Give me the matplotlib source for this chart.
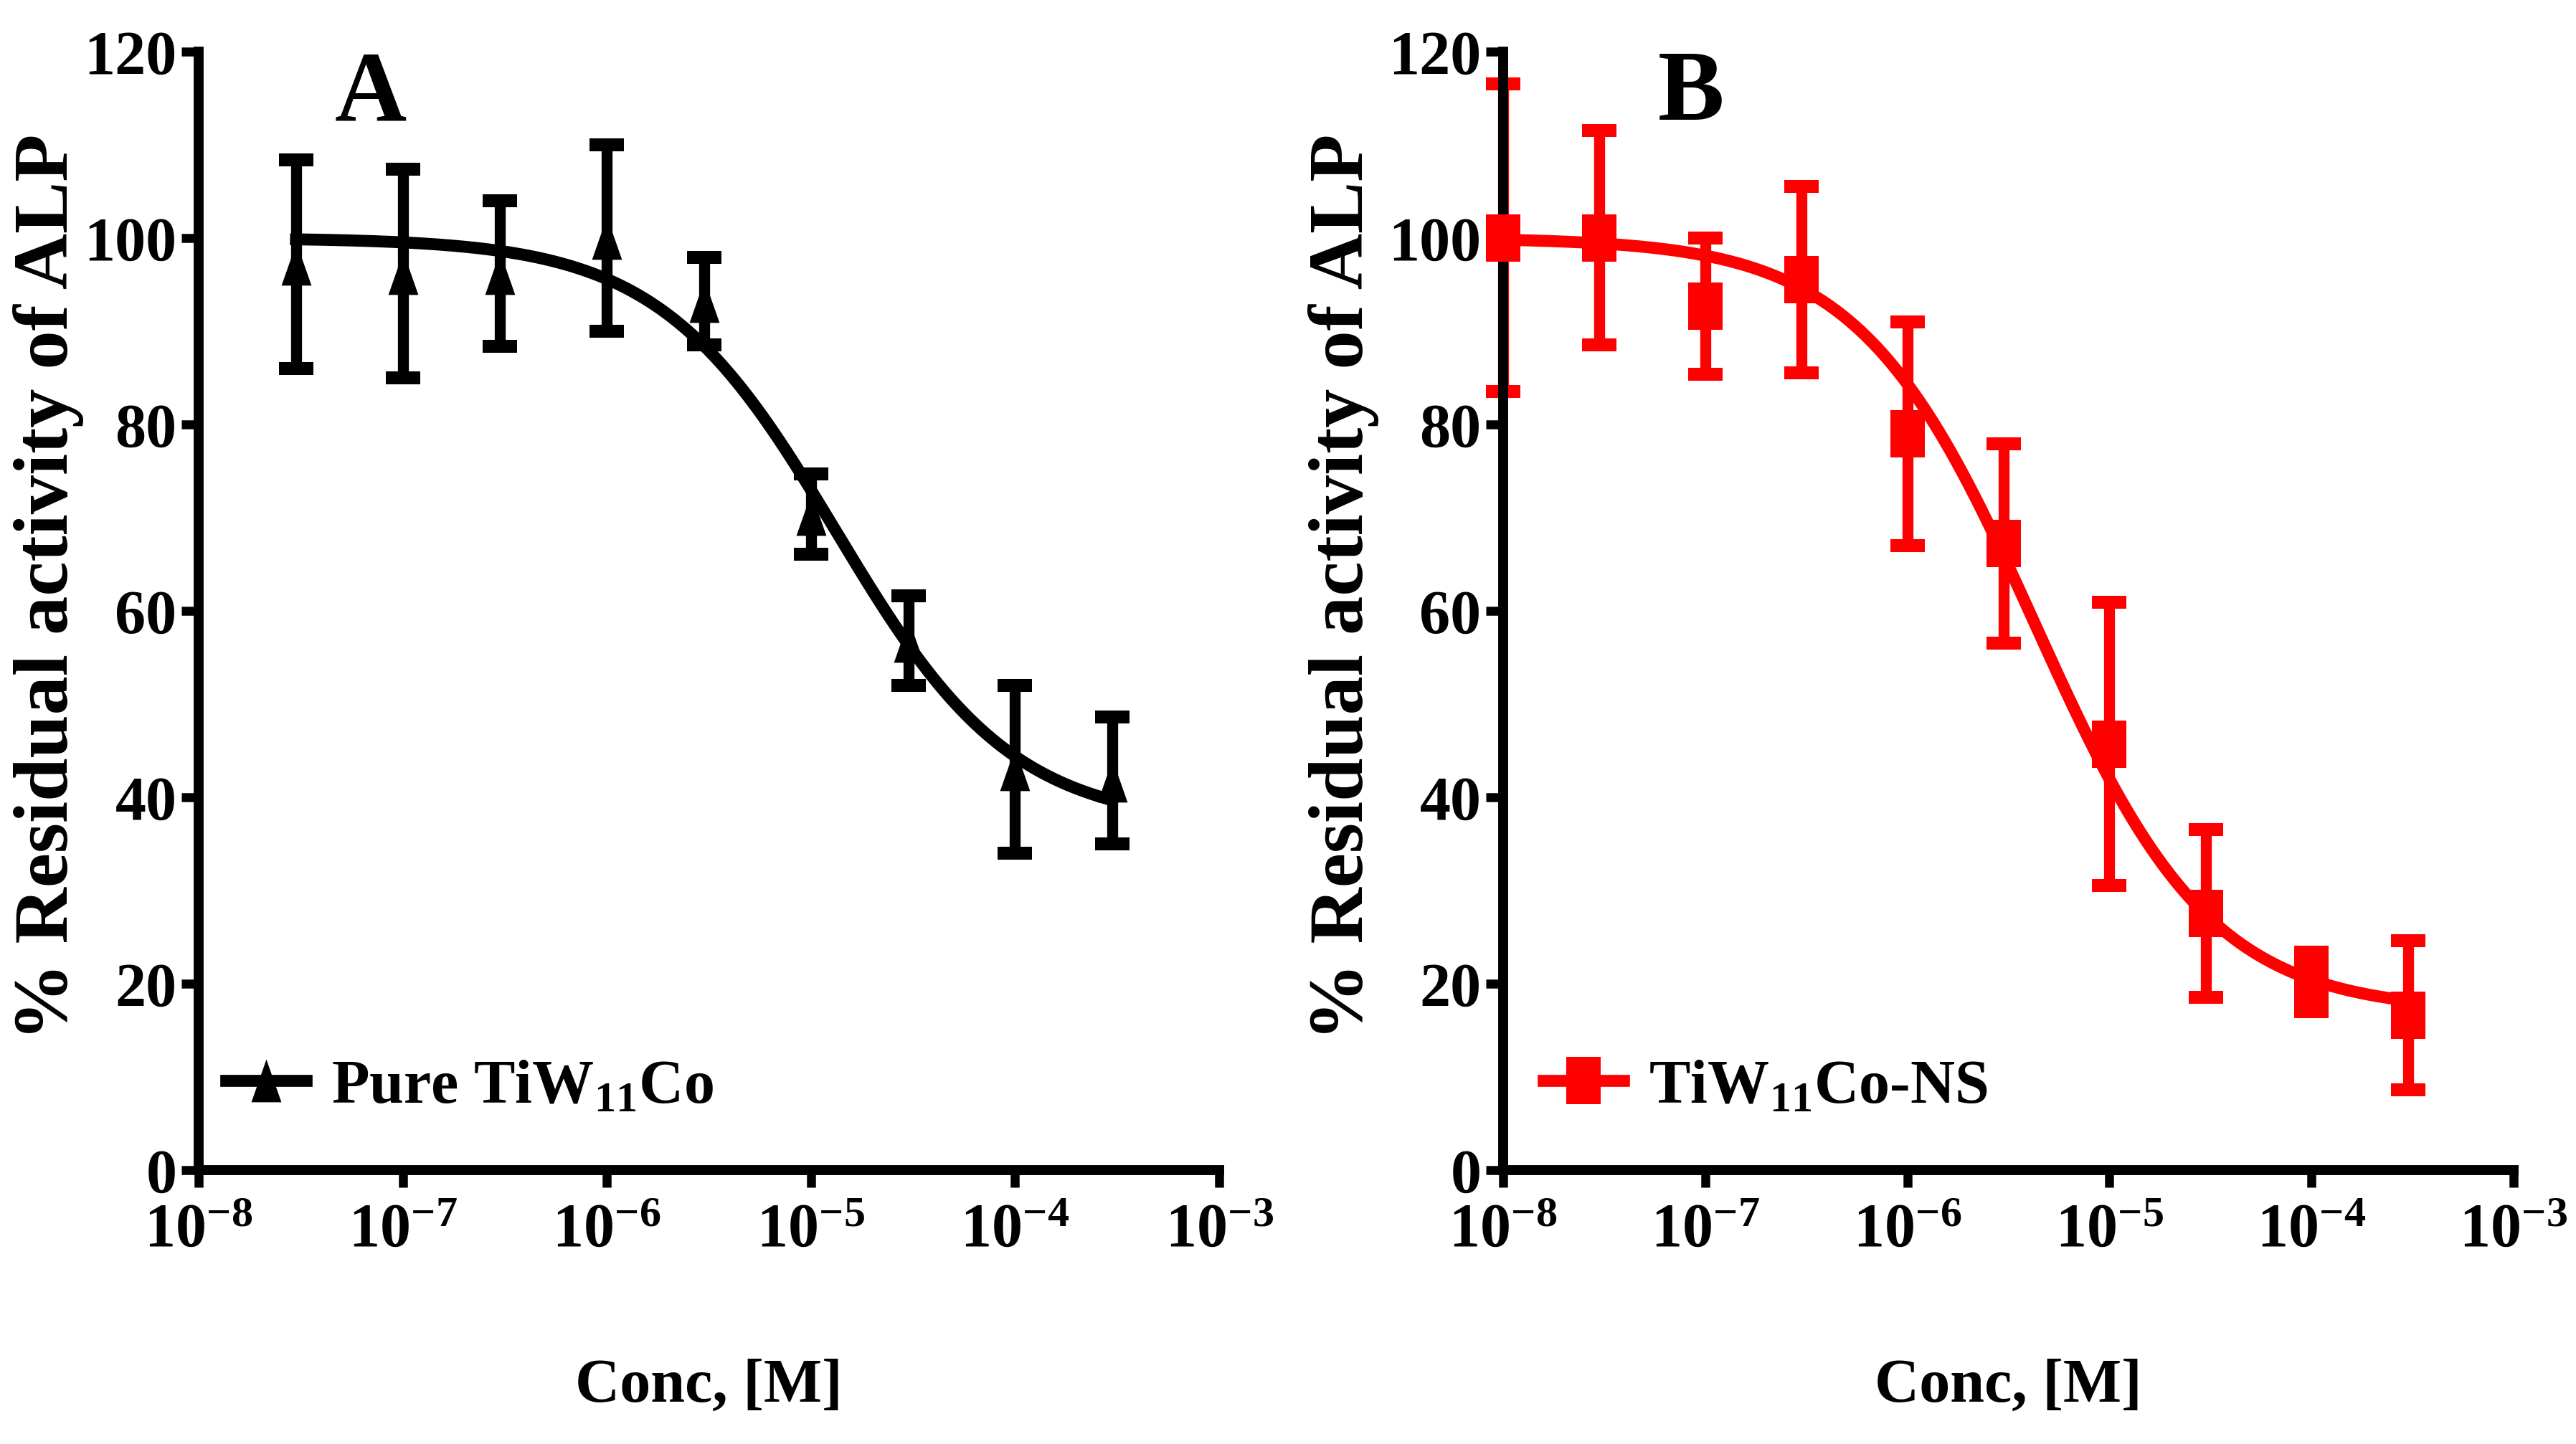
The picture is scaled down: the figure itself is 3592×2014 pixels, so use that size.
import matplotlib
matplotlib.use("Agg")
import numpy as np
import matplotlib.pyplot as plt
from matplotlib.path import Path
from matplotlib.lines import Line2D

# panel A: pure TiW11Co
conc_a = [3e-8, 1e-7, 3e-7, 1e-6, 3e-6, 1e-5, 3e-5, 1e-4, 3e-4]
act_a = [97.2, 96.2, 96.2, 100.0, 93.2, 70.4, 56.8, 43.0, 41.8]
err_a = [11.2, 11.2, 7.8, 10.0, 4.7, 4.3, 4.8, 9.0, 6.8]
fit_a = dict(top=100.0, bottom=37.0, ic50=1.33e-5, hill=1.0)

# panel B: TiW11Co-NS
conc_b = [1e-8, 3e-8, 1e-7, 3e-7, 1e-6, 3e-6, 1e-5, 3e-5, 1e-4, 3e-4]
act_b = [100.0, 100.0, 92.7, 95.5, 79.0, 67.2, 45.7, 27.5, 20.2, 16.6]
err_b = [16.5, 11.5, 7.3, 10.0, 12.0, 10.7, 15.2, 9.0, 3.2, 8.0]
fit_b = dict(top=100.0, bottom=17.0, ic50=4.3e-6, hill=1.0)

labels = ["Pure TiW$_{11}$Co", "TiW$_{11}$Co-NS"]
colors = ["black", "#ff0000"]

plt.rcParams.update({
    "font.family": "Liberation Serif",
    "font.weight": "bold",
    "axes.labelweight": "bold",
    "mathtext.fontset": "custom",
    "mathtext.rm": "Liberation Serif:bold",
    "mathtext.it": "Liberation Serif:bold:italic",
    "mathtext.bf": "Liberation Serif:bold",
    "axes.unicode_minus": False,
})

# tall markers (the original figure is stretched vertically)
tri = Path([(0, 1), (-0.7, -1), (0.7, -1), (0, 1)], closed=True)
sq = Path([(-0.74, -1), (0.74, -1), (0.74, 1), (-0.74, 1), (-0.74, -1)], closed=True)


def hill(x, top, bottom, ic50, hill):
    return bottom + (top - bottom) / (1 + (x / ic50) ** hill)


def panel(ax, conc, act, err, fit, color, marker, msize, label, leg_x, ylab_x):
    ax.set_xscale("log")
    ax.set_xlim(1e-8, 1e-3)
    ax.set_ylim(0, 120)
    ax.set_yticks(range(0, 121, 20))
    ax.set_xticks([1e-8, 1e-7, 1e-6, 1e-5, 1e-4, 1e-3])
    ax.xaxis.set_minor_locator(matplotlib.ticker.NullLocator())
    for s in ["top", "right"]:
        ax.spines[s].set_visible(False)
    for s in ["left", "bottom"]:
        ax.spines[s].set_linewidth(10)
    ax.tick_params(width=9, length=17, labelsize=62, direction="out")
    ax.tick_params(axis="x", pad=16)
    ax.tick_params(axis="y", pad=5)

    xs = np.logspace(np.log10(conc[0]), np.log10(conc[-1]), 300)
    ax.plot(xs, hill(xs, **fit), color=color, lw=12, zorder=3, clip_on=False)
    eb = ax.errorbar(conc, act, yerr=err, fmt="none", ecolor=color,
                     elinewidth=11, capsize=17, capthick=13, zorder=2)
    for art in eb.lines[1] + eb.lines[2]:
        art.set_clip_on(False)
    ax.plot(conc, act, ls="none", marker=marker, markersize=msize, mew=0,
            color=color, zorder=4, clip_on=False)

    h = Line2D([], [], color=color, lw=12, marker=marker, markersize=msize, mew=0)
    ax.legend([h], [label], loc="center left", bbox_to_anchor=(leg_x, 0.074),
              frameon=False, fontsize=62, handlelength=1.3, handletextpad=0.4,
              borderpad=0, borderaxespad=0, numpoints=1)

    ax.set_xlabel("Conc, [M]", fontsize=62, va="baseline")
    ax.xaxis.set_label_coords(0.5, -0.206)
    ax.set_ylabel("% Residual activity of ALP", fontsize=78, va="center")
    ax.yaxis.set_label_coords(ylab_x, 0.522)


fig = plt.figure(figsize=(35.92, 20.15), dpi=100)
ax_a = fig.add_axes([0.0771, 0.1896, 0.3962, 0.7742])
ax_b = fig.add_axes([0.5835, 0.1896, 0.3923, 0.7742])

panel(ax_a, conc_a, act_a, err_a, fit_a, colors[0], tri, 43, labels[0], 0.027, -0.147)
panel(ax_b, conc_b, act_b, err_b, fit_b, colors[1], sq, 47, labels[1], 0.040, -0.158)

fig.text(0.1439, 0.9166, "A", ha="center", va="baseline", fontsize=100, weight="bold")
fig.text(0.6565, 0.9171, "B", ha="center", va="baseline", fontsize=100, weight="bold")

fig.savefig("out.png", dpi=100, facecolor="white")
